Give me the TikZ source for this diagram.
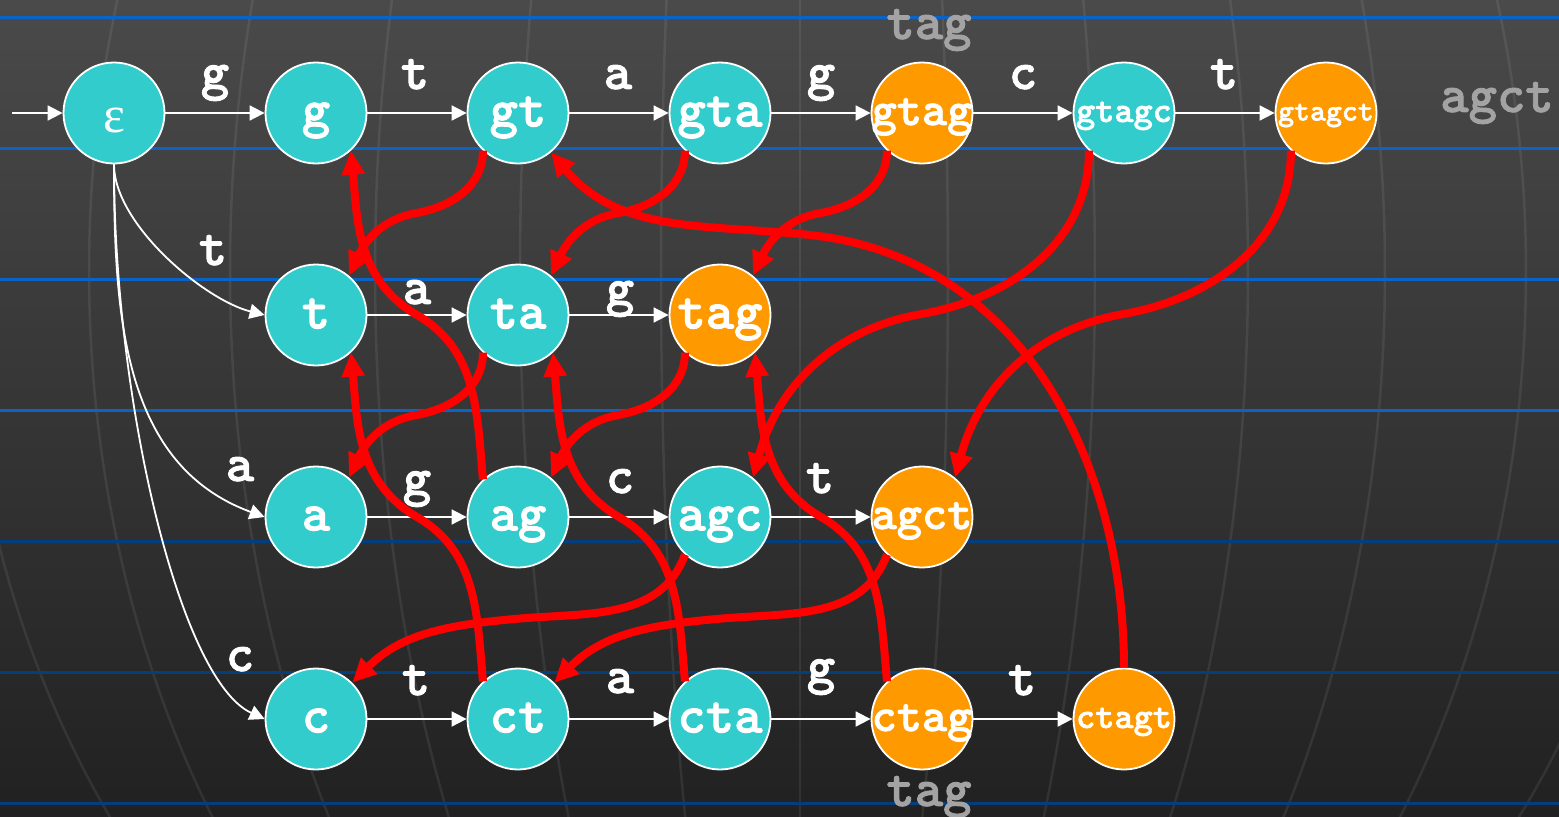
\documentclass[tikz,border=0pt]{standalone}
\usepackage{fontspec}
\newfontfamily\epsfont{Liberation Serif}
\newfontfamily\cour{lmmonolt10-bold.otf}[FakeBold=1.6]
\usetikzlibrary{arrows.meta,calc}
\definecolor{tealc}{HTML}{33CCCC}
\definecolor{orangec}{HTML}{FF9900}
\definecolor{bgtop}{HTML}{4A4A4A}
\definecolor{bgbot}{HTML}{212121}
\definecolor{blueA}{HTML}{0A64C8}
\definecolor{blueB}{HTML}{043E7C}
\definecolor{graytxt}{HTML}{A3A3A3}
\newcommand\mk[1]{\makebox[0pt]{#1}}
\begin{document}
\begin{tikzpicture}[x=1pt,y=1pt,
 st/.style={circle,draw=white,line width=1.8pt,minimum size=101pt,inner sep=0pt,fill=tealc,text=white,text depth=0pt},
 ob/.style={fill=orangec},
 f3/.style={font=\cour\fontsize{54}{54}\selectfont,text height=27pt},
 f4/.style={font=\cour\fontsize{48}{48}\selectfont,text height=24pt},
 f5/.style={font=\cour\fontsize{36.5}{36.5}\selectfont,text height=18pt},
 f6/.style={font=\cour\fontsize{30.4}{30.4}\selectfont,text height=15pt},
 lab/.style={anchor=base,inner sep=0pt,text=white,font=\cour\fontsize{54}{54}\selectfont},
 gtxt/.style={anchor=base,inner sep=0pt,text=graytxt,font=\cour\fontsize{54}{54}\selectfont},
 wedge/.style={draw=white,line width=1.8pt,-{Triangle[length=15pt,width=15pt]}},
 redge/.style={draw=red,line width=8pt,-{Triangle[length=24pt,width=22pt]}},
 mer/.style={draw=white,draw opacity=0.075,line width=2.5pt},
 blu/.style={line width=3pt}
]
\useasboundingbox (0,0) rectangle (1559,-817);
\shade[top color=bgtop,bottom color=bgbot] (0,0) rectangle (1559,-817);
\begin{scope}
\clip (0,0) rectangle (1559,-817);
\foreach \a in {-835,-711,-570,-425,-280,-139,0,148,295,448,585,726,870}
  \draw[mer] plot[domain=-17:35,samples=40,smooth] ({800+\a*cos(\x)},{-271-970*sin(\x)});
\end{scope}
\foreach \y/\c in {17/blueA,148/blueA,279/blueA,410/blueA,541/blueB,672/blueB,803/blueB}
  \draw[blu,\c] (0,-\y) -- (1559,-\y);

% gray texts
\node[gtxt] (gtop) at (929,-39) {tag};
\node[gtxt] (gbot) at (929,-806) {tag};
\node[gtxt] (gright) at (1497,-112) {agct};

% nodes
\node[st,font=\epsfont\fontsize{52}{52}\selectfont,text height=38pt] (e) at (114,-113) {\mk{ε}};
\node[st,f3] (n-g) at (316,-113) {\mk{g}};
\node[st,f3] (n-gt) at (518,-113) {\mk{gt}};
\node[st,f3] (n-gta) at (720,-113) {\mk{gta}};
\node[st,ob,f4] (n-gtag) at (922,-113) {\mk{gtag}};
\node[st,f5] (n-gtagc) at (1124,-113) {\mk{gtagc}};
\node[st,ob,f6] (n-gtagct) at (1326,-113) {\mk{gtagct}};
\node[st,f3] (n-t) at (316,-315) {\mk{t}};
\node[st,f3] (n-ta) at (518,-315) {\mk{ta}};
\node[st,ob,f3] (n-tag) at (720,-315) {\mk{tag}};
\node[st,f3] (n-a) at (316,-517) {\mk{a}};
\node[st,f3] (n-ag) at (518,-517) {\mk{ag}};
\node[st,f3] (n-agc) at (720,-517) {\mk{agc}};
\node[st,ob,f4] (n-agct) at (922,-517) {\mk{agct}};
\node[st,f3] (n-c) at (316,-719) {\mk{c}};
\node[st,f3] (n-ct) at (518,-719) {\mk{ct}};
\node[st,f3] (n-cta) at (720,-719) {\mk{cta}};
\node[st,ob,f4] (n-ctag) at (922,-719) {\mk{ctag}};
\node[st,ob,f5] (n-ctagt) at (1124,-719) {\mk{ctagt}};

% white transitions
\coordinate (start) at (12,-113);
\draw[wedge] (start) -- (e);
\draw[wedge] (e) -- (n-g);
\draw[wedge] (n-g) -- (n-gt);
\draw[wedge] (n-gt) -- (n-gta);
\draw[wedge] (n-gta) -- (n-gtag);
\draw[wedge] (n-gtag) -- (n-gtagc);
\draw[wedge] (n-gtagc) -- (n-gtagct);
\draw[wedge] (n-t) -- (n-ta);
\draw[wedge] (n-ta) -- (n-tag);
\draw[wedge] (n-a) -- (n-ag);
\draw[wedge] (n-ag) -- (n-agc);
\draw[wedge] (n-agc) -- (n-agct);
\draw[wedge] (n-c) -- (n-ct);
\draw[wedge] (n-ct) -- (n-cta);
\draw[wedge] (n-cta) -- (n-ctag);
\draw[wedge] (n-ctag) -- (n-ctagt);
\draw[wedge] (e.south) .. controls +(0,-60) and +(-60,15) .. (n-t.west);
\draw[wedge] (e.south) .. controls +(0,-151) and +(-142,52) .. (n-a.west);
\draw[wedge] (e.south) .. controls +(0,-237) and +(-85,39) .. (n-c.west);

% edge labels
\node[lab] (l1) at (215,-89) {g};
\node[lab] (l2) at (415,-89) {t};
\node[lab] (l3) at (618,-89) {a};
\node[lab] (l4) at (821,-89) {g};
\node[lab] (l5) at (1023,-89) {c};
\node[lab] (l6) at (1224,-89) {t};
\node[lab] (l7) at (417,-304) {a};
\node[lab] (l8) at (620,-305) {g};
\node[lab] (l9) at (417,-495) {g};
\node[lab] (l10) at (620,-493) {c};
\node[lab] (l11) at (820,-493) {t};
\node[lab] (l12) at (416,-695) {t};
\node[lab] (l13) at (620,-693) {a};
\node[lab] (l14) at (821,-683) {g};
\node[lab] (l15) at (1022,-695) {t};
\node[lab] (l16) at (213,-265) {t};
\node[lab] (l17) at (240,-481) {a};
\node[lab] (l18) at (240,-671) {c};

% red failure links
\draw[redge] (n-gt.-133) to[out=-90,in=10] ($(n-gt.-133)!.5!(n-t.50)$) to[out=190,in=65] (n-t.50);
\draw[redge] (n-gta.-133) to[out=-90,in=10] ($(n-gta.-133)!.5!(n-ta.50)$) to[out=190,in=65] (n-ta.50);
\draw[redge] (n-gtag.-133) to[out=-90,in=10] ($(n-gtag.-133)!.5!(n-tag.50)$) to[out=190,in=65] (n-tag.50);
\draw[redge] (n-ta.-133) to[out=-90,in=10] ($(n-ta.-133)!.5!(n-a.50)$) to[out=190,in=65] (n-a.50);
\draw[redge] (n-tag.-133) to[out=-90,in=10] ($(n-tag.-133)!.5!(n-ag.50)$) to[out=190,in=65] (n-ag.50);
\draw[redge] (n-gtagc.-133) to[out=-90,in=10] ($(n-gtagc.-133)!.5!(n-agc.50)$) to[out=190,in=75] (n-agc.50);
\draw[redge] (n-gtagct.-133) to[out=-90,in=10] ($(n-gtagct.-133)!.5!(n-agct.50)$) to[out=190,in=75] (n-agct.50);
\draw[redge] (n-agc.-133) to[out=-110,in=5] ($(n-agc.-133)!.5!(n-c.45)$) to[out=185,in=45] (n-c.45);
\draw[redge] (n-agct.-133) to[out=-110,in=5] ($(n-agct.-133)!.5!(n-ct.45)$) to[out=185,in=45] (n-ct.45);
\draw[redge] (n-ag.133) to[out=95,in=-30] ($(n-ag.133)!.5!(n-g.-47)$) to[out=150,in=-85] (n-g.-47);
\draw[redge] (n-ct.133) to[out=95,in=-30] ($(n-ct.133)!.5!(n-t.-47)$) to[out=150,in=-85] (n-t.-47);
\draw[redge] (n-cta.133) to[out=95,in=-30] ($(n-cta.133)!.5!(n-ta.-47)$) to[out=150,in=-85] (n-ta.-47);
\draw[redge] (n-ctag.133) to[out=95,in=-30] ($(n-ctag.133)!.5!(n-tag.-47)$) to[out=150,in=-85] (n-tag.-47);
\coordinate (m1) at (810,-235);
\draw[redge] (n-ctagt.north) to[out=90,in=-6] (m1) to[out=174,in=-50] (n-gt.-50);
\end{tikzpicture}
\end{document}
